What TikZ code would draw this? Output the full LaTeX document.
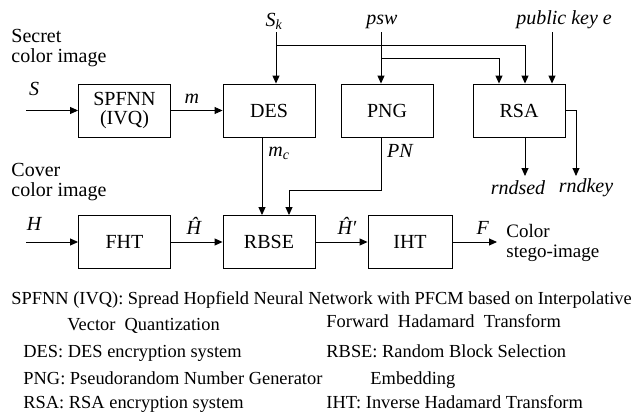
\documentclass[tikz,border=0pt]{standalone}
\usepackage{fontspec}
\setmainfont{Liberation Serif}
\usetikzlibrary{arrows.meta}
\begin{document}
\begin{tikzpicture}[x=1pt, y=-1pt, line width=0.9pt,
    >={Triangle[length=8pt, width=7pt]},
    blk/.style={draw, rectangle, minimum width=92pt, minimum height=53pt, inner sep=0pt,
        align=center, font=\fontsize{20}{19}\selectfont},
    lbl/.style={inner sep=0pt, font=\fontsize{20}{22}\selectfont\itshape},
    side/.style={inner sep=0pt, anchor=base west, align=left, font=\fontsize{20}{19.5}\selectfont},
    leg/.style={inner sep=0pt, anchor=base west, font=\fontsize{18.4}{20}\selectfont}]
    \useasboundingbox (0,0) rectangle (634,418);

    % Blocks
    \node[blk] (spfnn) at (124.5,110.5) {SPFNN\\(IVQ)};
    \node[blk] (des) at (269,110.5) {DES};
    \node[blk] (png) at (387,110.5) {PNG};
    \node[blk] (rsa) at (519,110.5) {RSA};
    \node[blk] (fht) at (124.5,242) {FHT};
    \node[blk] (rbse) at (269,242) {RBSE};
    \node[blk, minimum width=84pt] (iht) at (410,242) {IHT};

    % Inputs and outputs
    \coordinate (sin) at (26,110.5);
    \coordinate (hin) at (26,242);
    \coordinate (fout) at (497,242);
    \coordinate (sk) at (276,32);
    \coordinate (skj) at (276,45);
    \coordinate (psw) at (381,32);
    \coordinate (pswj) at (381,58);
    \coordinate (pke) at (552,32);
    \coordinate (sed) at (525,176);
    \coordinate (key) at (576,176);

    \node[side] (secret) at (11,62) {Secret\\color image};
    \node[side] (cover) at (11,196) {Cover\\color image};
    \node[side, font=\fontsize{19}{19.5}\selectfont] (stego) at (506,257) {Color\\stego-image};

    \node[lbl] (slbl) at (34,89) {S};
    \node[lbl] (hlbl) at (34,224) {H};
    \node[lbl, anchor=south] (sklbl) at (274,30) {S\textsubscript{k}};
    \node[lbl, anchor=south] (pswlbl) at (382,29) {psw};
    \node[lbl, anchor=south] (pkelbl) at (564,29) {public key e};
    \node[lbl] (sedlbl) at (518,188) {rndsed};
    \node[lbl] (keylbl) at (586,188) {rndkey};

    % Secret image path
    \draw[->] (sin) -- (spfnn);
    \draw[->] (spfnn) -- node[lbl, midway, above=7pt, xshift=-5pt] {m} (des);
    \draw[->] (sk) -- (sk |- des.north);
    \draw[->] (skj) -| ([xshift=6pt]rsa.north);
    \draw[->] (psw) -- (psw |- png.north);
    \draw[->] (pswj) -| ([xshift=-20pt]rsa.north);
    \draw[->] (pke) -- (pke |- rsa.north);
    \draw[->] ([xshift=6pt]rsa.south) -- (sed);
    \draw[->] (rsa.east) -| (key);

    % Into the embedding block
    \draw[->] ([xshift=-7pt]des.south) -- node[lbl, pos=0.2, right=6pt] {m\textsubscript{c}} ([xshift=-7pt]rbse.north);
    \draw[->] ([xshift=-6pt]png.south) -- ++(0,53) -| ([xshift=20pt]rbse.north);
    \node[lbl] (pnlbl) at (400,151) {PN};

    % Cover image path
    \draw[->] (hin) -- (fht);
    \draw[->] (fht) -- node[lbl, midway, above=7pt, xshift=-3pt] {Ĥ} (rbse);
    \draw[->] (rbse) -- node[lbl, midway, above=7pt, xshift=6pt] {Ĥ\kern1pt\upshape′} (iht);
    \draw[->] (iht) -- node[lbl, midway, above=7pt, xshift=8pt] {F} (fout);

    % Legend
    \node[leg] (l1) at (11,304) {SPFNN (IVQ): Spread Hopfield Neural Network with PFCM based on Interpolative};
    \node[leg] (l2) at (67,330) {Vector\ \ Quantization};
    \node[leg] (l3) at (326,327) {Forward\ \ Hadamard\ \ Transform};
    \node[leg] (l4) at (23,357) {DES: DES encryption system};
    \node[leg] (l5) at (326,357) {RBSE: Random Block Selection};
    \node[leg] (l6) at (23,384) {PNG: Pseudorandom Number Generator};
    \node[leg] (l7) at (370,384) {Embedding};
    \node[leg] (l8) at (23,408) {RSA: RSA encryption system};
    \node[leg] (l9) at (326,408) {IHT: Inverse Hadamard Transform};
\end{tikzpicture}
\end{document}
